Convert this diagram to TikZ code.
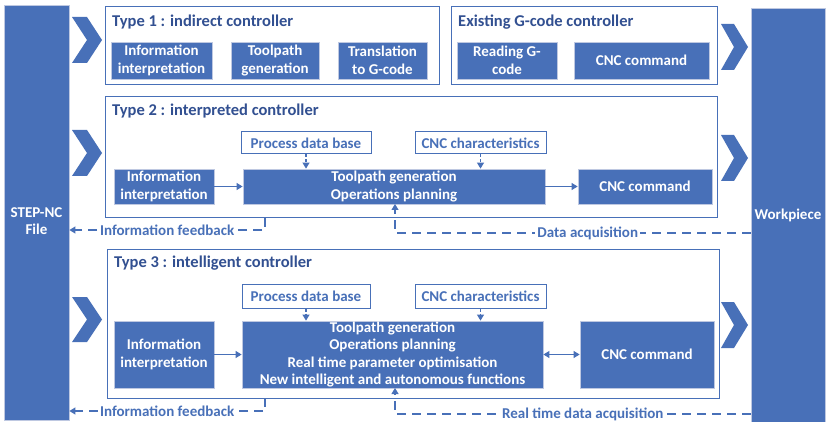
\documentclass[tikz,border=0pt]{standalone}
\usepackage{fontspec}
\setmainfont{Carlito}
\usetikzlibrary{arrows.meta}
\definecolor{mb}{RGB}{72,112,184}
\definecolor{mdk}{RGB}{50,80,145}
\definecolor{medge}{RGB}{190,200,225}
\tikzset{
  fbox/.style={fill=mb, draw=medge, line width=0.8pt, text=white, align=center, inner sep=0pt,
    font=\bfseries\fontsize{15}{17.5}\selectfont},
  wbox/.style={fill=white, draw=mb, line width=1pt, text=mb, align=center, inner sep=0pt,
    font=\bfseries\fontsize{15}{17}\selectfont},
  frame/.style={draw=mb, line width=1pt, inner sep=0pt},
  ttl/.style={anchor=west, text=mdk, inner sep=0pt, font=\bfseries\fontsize{16.5}{19}\selectfont},
  bar/.style={fill=mb, draw=medge, line width=0.8pt, inner sep=0pt, text=white,
    font=\bfseries\fontsize{15}{17.5}\selectfont, align=center},
  chev/.style={fill=mb, draw=none},
  arr/.style={draw=mb, line width=1.1pt, -{Triangle[length=6pt,width=7pt]}},
  darr/.style={arr, dash pattern=on 3pt off 2pt},
  fb/.style={draw=mb, line width=1.1pt, dash pattern=on 9pt off 6pt, -{Triangle[length=6pt,width=7pt]}},
  lbl/.style={fill=white, text=mb, inner sep=2pt, font=\bfseries\fontsize{15}{17}\selectfont},
}
\begin{document}
\begin{tikzpicture}[x=1pt,y=-1pt]
\useasboundingbox (0,0) rectangle (827,422);
\fill[white] (0,0) rectangle (827,422);

% side bars
\node[bar, minimum width=65pt, minimum height=415pt] (step) at (36.5,212.5) {};
\node[text=white, font=\bfseries\fontsize{15}{17.5}\selectfont, align=center, inner sep=0pt] (steplbl) at (36.5,221) {STEP-NC\\File};
\node[bar, minimum width=74pt, minimum height=414pt] (wp) at (788,215) {Workpiece};

% chevrons left
\foreach \a/\b in {17/63, 130/176, 297/342}{
  \pgfmathsetmacro\m{(\a+\b)/2}
  \fill[chev] (72,\a) -- (87,\a) -- (102,\m) -- (87,\b) -- (72,\b) -- (87,\m) -- cycle;
}
% chevrons right
\foreach \a/\b in {24/70, 135/181, 302/348}{
  \pgfmathsetmacro\m{(\a+\b)/2}
  \fill[chev] (721,\a) -- (734,\a) -- (748,\m) -- (734,\b) -- (721,\b) -- (734,\m) -- cycle;
}

% Type 1
\node[frame, minimum width=334pt, minimum height=78pt] (t1) at (272,46) {};
\node[ttl] (t1t) at (112,22) {Type 1 : indirect controller};
\node[fbox, minimum width=101pt, minimum height=37pt] (t1a) at (161.5,60.5) {Information\\interpretation};
\node[fbox, minimum width=88pt, minimum height=37pt] (t1b) at (275,60.5) {Toolpath\\generation};
\node[fbox, minimum width=89pt, minimum height=37pt] (t1c) at (382.5,60.5) {Translation\\to G-code};

% Existing G-code
\node[frame, minimum width=266pt, minimum height=78pt] (g) at (584,46) {};
\node[ttl] (gt) at (458,22) {Existing G-code controller};
\node[fbox, minimum width=100pt, minimum height=37pt] (g1) at (507,60.5) {Reading G-\\code};
\node[fbox, minimum width=135pt, minimum height=37pt] (g2) at (641.5,60.5) {CNC command};

% Type 2
\node[frame, minimum width=612pt, minimum height=121pt] (t2) at (411,157.5) {};
\node[ttl] (t2t) at (112,111) {Type 2 : interpreted controller};
\node[wbox, minimum width=130pt, minimum height=22pt] (pdb2) at (306,143) {Process data base};
\node[wbox, minimum width=131pt, minimum height=22pt] (cch2) at (480.5,143) {CNC characteristics};
\node[fbox, minimum width=100pt, minimum height=35pt] (ii2) at (164,186.5) {Information\\interpretation};
\node[fbox, minimum width=302pt, minimum height=35pt] (tp2) at (394,186.5) {Toolpath generation\\Operations planning};
\node[fbox, minimum width=134pt, minimum height=35pt] (cnc2) at (645,186.5) {CNC command};
\draw[arr] (ii2) -- (tp2);
\draw[arr] (tp2) -- (cnc2);
\draw[darr] (pdb2.south) -- (pdb2.south |- tp2.north);
\draw[darr] (cch2.south) -- (cch2.south |- tp2.north);

% Type 3
\node[frame, minimum width=612pt, minimum height=149pt] (t3) at (413,323.5) {};
\node[ttl] (t3t) at (114,263) {Type 3 : intelligent controller};
\node[wbox, minimum width=128pt, minimum height=24pt] (pdb3) at (306,296) {Process data base};
\node[wbox, minimum width=131pt, minimum height=24pt] (cch3) at (480.5,296) {CNC characteristics};
\node[fbox, minimum width=100pt, minimum height=67pt] (ii3) at (164,354.5) {Information\\interpretation};
\node[fbox, minimum width=301pt, minimum height=67pt] (tp3) at (392.5,354.5) {Toolpath generation\\Operations planning\\Real time parameter optimisation\\New intelligent and autonomous functions};
\node[fbox, minimum width=134pt, minimum height=67pt] (cnc3) at (647,354.5) {CNC command};
\draw[arr] (ii3) -- (tp3);
\draw[arr, {Triangle[length=6pt,width=7pt]}-{Triangle[length=6pt,width=7pt]}] (tp3) -- (cnc3);
\draw[darr] (pdb3.south) -- (pdb3.south |- tp3.north);
\draw[darr] (cch3.south) -- (cch3.south |- tp3.north);

% feedback / acquisition
\coordinate (f2) at (265,218);
\coordinate (f3) at (265,398);
\draw[fb] (f2) -- (265,230) -- (step.east |- 0,230) node[lbl, pos=0.5] {Information feedback};
\draw[fb] (f3) -- (265,411) -- (step.east |- 0,411) node[lbl, pos=0.5] {Information feedback};
\coordinate (d2) at (395,204);
\coordinate (d3) at (395,388);
\draw[fb] (wp.west |- 0,233) -- node[lbl, pos=0.458] {Data acquisition} (395,233) -- (d2);
\draw[fb] (wp.west |- 0,414) -- node[lbl, pos=0.472, inner ysep=0pt] {Real time data acquisition} (395,414) -- (d3);
\end{tikzpicture}
\end{document}
